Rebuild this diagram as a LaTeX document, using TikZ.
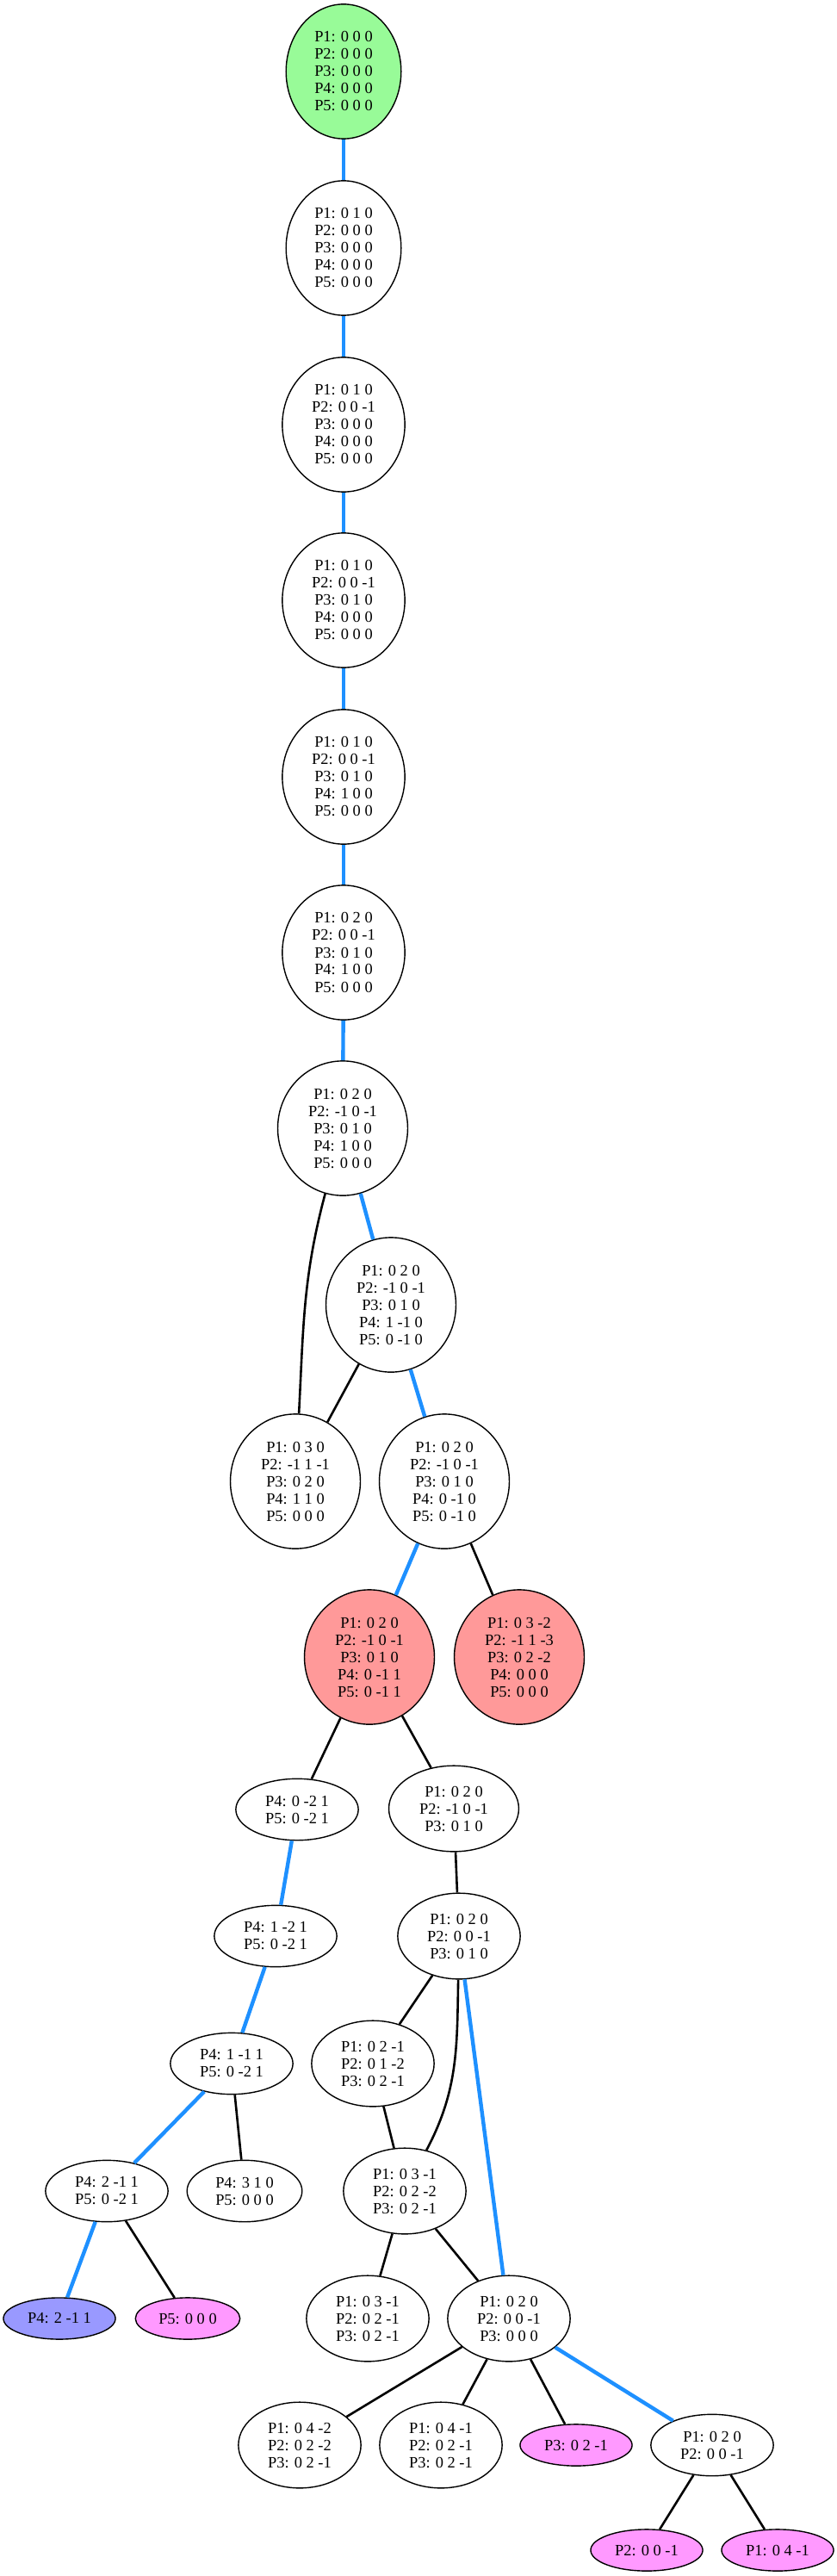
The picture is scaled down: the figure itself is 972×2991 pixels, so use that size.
\documentclass[tikz,border=0pt]{standalone}
\usepackage{fontspec}
\setmainfont{Liberation Serif}
\usepackage{tikz}
\usetikzlibrary{shapes.geometric}
\definecolor{pathc}{HTML}{1E90FF}
\definecolor{startc}{HTML}{98FB98}
\definecolor{deadc}{HTML}{FF9999}
\definecolor{goalc}{HTML}{9999FF}
\definecolor{endc}{HTML}{FF99FF}
\tikzset{
  st/.style={ellipse,draw,line width=0.7pt,fill=white,align=center,inner xsep=6.75pt,inner ysep=4.5pt,font=\fontsize{9.2}{10}\selectfont},
  leaf/.style={st,inner xsep=4.6pt,inner ysep=5.4pt,fill=endc},
  hot/.style={line width=2.2pt,pathc},
  ed/.style={line width=1.3pt,black}
}
\begin{document}
\begin{tikzpicture}[x=0.5pt,y=-0.5pt]
\useasboundingbox (0,0) rectangle (972,2991);
% main line
\node[st,fill=startc] (n0) at (399,83) {P1: 0 0 0\\P2: 0 0 0\\P3: 0 0 0\\P4: 0 0 0\\P5: 0 0 0};
\node[st] (n1) at (399,288) {P1: 0 1 0\\P2: 0 0 0\\P3: 0 0 0\\P4: 0 0 0\\P5: 0 0 0};
\node[st] (n2) at (399,493) {P1: 0 1 0\\P2: 0 0 -1\\P3: 0 0 0\\P4: 0 0 0\\P5: 0 0 0};
\node[st] (n3) at (399,697) {P1: 0 1 0\\P2: 0 0 -1\\P3: 0 1 0\\P4: 0 0 0\\P5: 0 0 0};
\node[st] (n4) at (399,902) {P1: 0 1 0\\P2: 0 0 -1\\P3: 0 1 0\\P4: 1 0 0\\P5: 0 0 0};
\node[st] (n5) at (399,1106) {P1: 0 2 0\\P2: 0 0 -1\\P3: 0 1 0\\P4: 1 0 0\\P5: 0 0 0};
\node[st] (n6) at (398,1310) {P1: 0 2 0\\P2: -1 0 -1\\P3: 0 1 0\\P4: 1 0 0\\P5: 0 0 0};
\node[st] (n7) at (454,1515) {P1: 0 2 0\\P2: -1 0 -1\\P3: 0 1 0\\P4: 1 -1 0\\P5: 0 -1 0};
\node[st] (n8) at (343,1720) {P1: 0 3 0\\P2: -1 1 -1\\P3: 0 2 0\\P4: 1 1 0\\P5: 0 0 0};
\node[st] (n9) at (516,1720) {P1: 0 2 0\\P2: -1 0 -1\\P3: 0 1 0\\P4: 0 -1 0\\P5: 0 -1 0};
\node[st,fill=deadc] (n10) at (429,1924) {P1: 0 2 0\\P2: -1 0 -1\\P3: 0 1 0\\P4: 0 -1 1\\P5: 0 -1 1};
\node[st,fill=deadc] (n11) at (603,1924) {P1: 0 3 -2\\P2: -1 1 -3\\P3: 0 2 -2\\P4: 0 0 0\\P5: 0 0 0};
% lower tree
\node[st] (n12) at (345,2101) {P4: 0 -2 1\\P5: 0 -2 1};
\node[st] (n13) at (527,2100) {P1: 0 2 0\\P2: -1 0 -1\\P3: 0 1 0};
\node[st] (n14) at (320,2248) {P4: 1 -2 1\\P5: 0 -2 1};
\node[st] (n15) at (533,2248) {P1: 0 2 0\\P2: 0 0 -1\\P3: 0 1 0};
\node[st] (n16) at (269,2396) {P4: 1 -1 1\\P5: 0 -2 1};
\node[st] (n17) at (433,2396) {P1: 0 2 -1\\P2: 0 1 -2\\P3: 0 2 -1};
\node[st] (n18) at (124,2544) {P4: 2 -1 1\\P5: 0 -2 1};
\node[st] (n19) at (284,2544) {P4: 3 1 0\\P5: 0 0 0};
\node[st] (n20) at (470,2544) {P1: 0 3 -1\\P2: 0 2 -2\\P3: 0 2 -1};
\node[leaf,fill=goalc] (n21) at (69,2692) {P4: 2 -1 1};
\node[leaf] (n22) at (218,2692) {P5: 0 0 0};
\node[st] (n23) at (427,2692) {P1: 0 3 -1\\P2: 0 2 -1\\P3: 0 2 -1};
\node[st] (n24) at (591,2692) {P1: 0 2 0\\P2: 0 0 -1\\P3: 0 0 0};
\node[st] (n25) at (348,2839) {P1: 0 4 -2\\P2: 0 2 -2\\P3: 0 2 -1};
\node[st] (n26) at (512,2839) {P1: 0 4 -1\\P2: 0 2 -1\\P3: 0 2 -1};
\node[leaf] (n27) at (669,2839) {P3: 0 2 -1};
\node[st] (n28) at (827,2839) {P1: 0 2 0\\P2: 0 0 -1};
\node[leaf] (n29) at (751,2961) {P2: 0 0 -1};
\node[leaf] (n30) at (903,2961) {P1: 0 4 -1};
% edges
\foreach \a/\b in {n0/n1,n1/n2,n2/n3,n3/n4,n4/n5,n5/n6,n6/n7,n7/n9,n9/n10,n12/n14,n14/n16,n16/n18,n18/n21,n15/n24,n24/n28}
  \draw[hot] (\a) -- (\b);
\foreach \a/\b in {n7/n8,n9/n11,n10/n12,n10/n13,n13/n15,n15/n17,n16/n19,n17/n20,n18/n22,n20/n23,n20/n24,n24/n25,n24/n26,n24/n27,n28/n29,n28/n30}
  \draw[ed] (\a) -- (\b);
\draw[ed] (n6) to[out=-105,in=87] (n8);
\draw[ed] (n15) to[out=-91,in=62] (n20);
\end{tikzpicture}
\end{document}
